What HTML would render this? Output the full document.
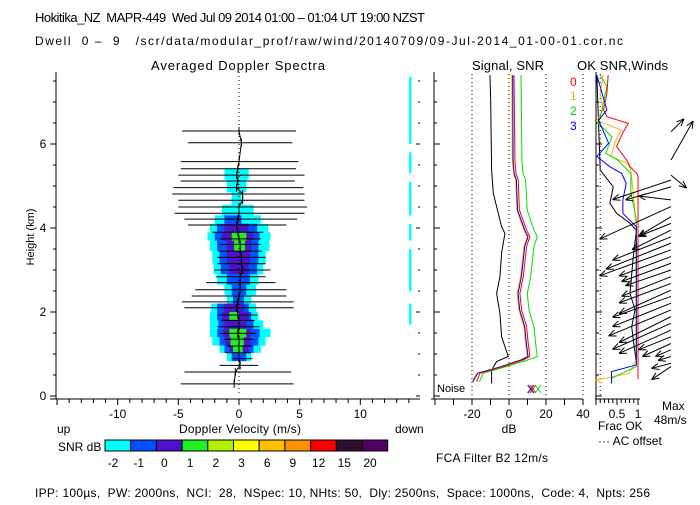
<!DOCTYPE html>
<html><head><meta charset="utf-8"><style>
body{margin:0;background:#fff}
svg text{font-family:"Liberation Sans",sans-serif;font-size:12px;fill:#000;white-space:pre}
</style></head><body>
<svg id="c" width="700" height="500" viewBox="0 0 700 500" xmlns="http://www.w3.org/2000/svg" xml:space="preserve">
<text x="35" y="22" style="font-size:13px" textLength="390" lengthAdjust="spacing">Hokitika_NZ  MAPR-449  Wed Jul 09 2014 01:00 – 01:04 UT 19:00 NZST</text>
<text x="35" y="45" style="font-size:12px" textLength="588" lengthAdjust="spacing">Dwell  0 –  9   /scr/data/modular_prof/raw/wind/20140709/09-Jul-2014_01-00-01.cor.nc</text>
<text x="151" y="70" style="font-size:13px" textLength="174" lengthAdjust="spacing">Averaged Doppler Spectra</text>
<text x="472" y="70" style="font-size:13px" textLength="72" lengthAdjust="spacing">Signal, SNR</text>
<text x="577" y="70" style="font-size:13px" textLength="91" lengthAdjust="spacing">OK SNR,Winds</text>
<text x="34" y="237" transform="rotate(-90 34 237)" text-anchor="middle" style="font-size:11px">Height (km)</text>
<text x="179" y="433" textLength="122" lengthAdjust="spacing">Doppler Velocity (m/s)</text>
<text x="57" y="433">up</text>
<text x="395" y="433">down</text>
<text x="509" y="433" text-anchor="middle">dB</text>
<text x="598" y="430">Frac OK</text>
<text x="598" y="445">··· AC offset</text>
<text x="662" y="410">Max</text>
<text x="654" y="424">48m/s</text>
<text x="58" y="451">SNR dB</text>
<text x="436" y="462" textLength="112" lengthAdjust="spacing">FCA Filter B2 12m/s</text>
<text x="35" y="497" textLength="615" lengthAdjust="spacing">IPP: 100µs,  PW: 2000ns,  NCI:  28,  NSpec: 10, NHts: 50,  Dly: 2500ns,  Space: 1000ns,  Code: 4,  Npts: 256</text>
<text x="437" y="392" style="font-size:11px">Noise</text>
<text x="570" y="86" style="fill:#f00">0</text>
<text x="570" y="100" style="fill:#ffb000">1</text>
<text x="570" y="115" style="fill:#00d000">2</text>
<text x="570" y="130" style="fill:#0000ff">3</text>
<g id="g"></g>
</svg>
<script>
// ---- data ----
const contourH=[5.3,5.0,4.7,4.4,4.2,4.0,3.8,3.6,3.3,3.0,2.8,2.5,2.3,2.1,1.9,1.7,1.5,1.3,1.1,0.95];
const cyanL=[-1.2,-1.0,-0.6,-1.4,-2.0,-2.4,-2.6,-2.4,-2.2,-2.1,-1.8,-1.2,-1.0,-2.3,-2.4,-2.4,-2.4,-2.2,-1.6,-1.0];
const cyanR=[0.8,0.6,0.2,1.2,1.8,2.4,2.6,2.5,2.2,2.0,1.6,1.4,1.0,1.4,1.6,2.0,2.6,2.2,1.8,1.0];
const blueL=[0,0,0,0,-1.2,-1.8,-2.0,-1.8,-1.6,-1.5,-1.0,-0.6,-0.5,-1.8,-1.8,-1.7,-1.8,-1.6,-1.2,-0.6];
const blueR=[0,0,0,0,0.2,1.5,1.7,1.6,1.6,1.5,0.9,0.6,0.4,0.8,1.0,1.2,1.7,1.6,1.2,0.6];
const purpL=[0,0,0,0,0,-1.2,-1.4,-1.0,-1.0,-0.8,0,0,0,-1.2,-1.4,-1.2,-1.3,-1.1,-0.8,0];
const purpR=[0,0,0,0,0,0.8,1.2,1.0,0.9,0.8,0,0,0,0.4,0.8,0.6,1.0,1.0,0.8,0];
const greenL=[0,0,0,0,0,0,-0.6,-0.4,0,0,0,0,0,0,-0.8,0,-0.8,-0.7,-0.5,0];
const greenR=[0,0,0,0,0,0,0.6,0.5,0,0,0,0,0,0,0.0,0,0.6,0.4,0.3,0];
const barH=[6.31,6.03,5.58,5.41,5.26,5.12,4.96,4.81,4.66,4.50,4.35,4.21,4.07,3.90,3.74,3.61,3.45,3.30,3.15,3.00,2.84,2.70,2.53,2.38,2.24,2.10,1.93,1.80,1.65,1.49,1.35,1.19,1.03,0.89,0.73,0.57,0.29];
const barL=[-4.7,-4.2,-4.8,-4.8,-5.0,-4.8,-5.4,-5.5,-5.0,-5.0,-5.3,-4.5,-4.2,-2.2,-1.6,-1.6,-1.7,-1.8,-1.8,-2.0,-1.9,-2.7,-3.6,-3.9,-4.7,-4.5,-1.8,-1.5,-1.8,-1.6,-1.2,-1.0,-1.1,-0.6,-1.6,-4.5,-4.8];
const barR=[4.7,4.4,4.9,4.7,5.4,4.6,5.3,5.4,5.4,5.6,5.4,4.8,3.9,2.0,1.8,1.8,1.9,2.2,2.2,2.6,2.2,3.0,3.9,3.9,4.5,4.5,1.5,1.3,1.7,1.4,1.2,1.1,1.0,1.1,1.6,4.3,4.5];
const barMean=[0,0.2,0,-0.1,-0.2,-0.1,-0.2,0.3,0.3,0,0,-0.1,-0.2,-0.1,0,0.1,0.1,0.2,0.2,0.3,0.1,0.1,0.1,0,-0.1,-0.2,-0.1,0,0,-0.1,0,0,0,0,0.1,-0.3,-0.4];
const sigH=[7.64,7.05,5.38,4.83,4.03,3.87,3.40,2.84,2.44,1.97,1.41,0.94,0.82,0.62,0.30];
const sigDb=[-10.3,-9.9,-9.4,-8.5,-4.0,-2.2,-4.0,-4.9,-6.7,-4.9,-4.0,-0.4,-6.7,-9.4,-9.4];
const snrH=[7.64,5.62,5.30,5.14,4.43,3.95,3.79,3.56,2.84,2.44,2.05,1.65,1.25,0.94,0.86,0.70,0.54,0.34];
const snr0=[2.7,3.2,3.8,5.0,5.6,9.5,11.3,9.5,7.7,5.9,6.8,9.5,10.4,11.3,7.7,-3.1,-15.7,-17.5];
const snr1=[1.5,1.8,2.4,3.6,4.2,8.0,9.8,8.0,6.2,4.4,5.3,8.0,8.9,9.8,6.2,-4.6,-17.5,-20.0];
const snr2=[6.5,7.0,7.6,9.0,9.8,13.5,15.3,13.5,11.7,9.9,10.8,13.5,14.4,15.3,10.2,-1.5,-14.0,-16.0];
const snr3=[2.0,2.2,2.8,4.0,4.6,8.5,10.3,8.5,6.7,4.9,5.8,8.5,9.4,10.3,6.7,-4.0,-17.0,-19.5];
const fracH0=[7.64,7.21,6.81,6.65,6.49,6.29,5.94,5.62,5.46,5.30,5.22,0.40];
const frac0=[0.29,0.26,0.18,0.26,0.77,0.65,0.49,0.73,0.81,0.97,1.0,1.0];
const fracH1=[7.64,7.21,6.81,6.57,6.33,6.02,5.70,5.54,5.38,4.67,4.19,4.03,0.86,0.54,0.38,0.30];
const frac1=[0.17,0.10,0.17,0.02,0.60,0.44,0.36,0.75,0.83,0.90,0.94,0.96,0.96,0.79,0.0,0.15];
const fracH2=[7.64,7.37,6.81,6.49,6.17,5.78,5.62,5.30,4.83,4.51,4.19,0.70,0.42,0.30];
const frac2=[0.10,0.26,0.14,0.06,0.38,0.23,0.51,0.83,0.83,0.90,0.96,0.96,0.37,0.37];
const fracH3=[7.64,6.81,6.57,6.02,5.70,5.46,5.30,5.06,4.67,4.35,4.03,0.74,0.58,0.30];
const frac3=[0.02,0.26,0.06,0.30,0.02,0.33,0.61,0.72,0.64,0.64,0.96,0.96,0.37,0.37];
const acH=[7.64,5.38,4.98,4.59,4.35,4.11,3.95,3.24,2.44,2.05,1.65,1.25,0.86];
const acF=[0.02,0.10,0.41,0.33,0.49,0.81,0.96,0.88,0.81,0.93,0.85,0.90,0.95];
const windH=[6.29,5.62,5.26,5.14,4.98,4.67,4.51,4.27,4.11,3.95,3.79,3.64,3.48,3.32,3.16,3.00,2.84,2.68,2.52,2.37,2.21,2.05,1.89,1.73,1.57,1.41,1.25,1.10,0.94,0.78,0.70];
const windU=[10,17,12,-45,-35,-25,-55,-25,-25,-30,-45,-50,-55,-40,-38,-35,-38,-40,-40,-45,-45,-48,-40,-45,-40,-25,-22,-12,-10,-15,-15];
const windV=[10,30,-10,-15,-10,3,-25,-15,-10,-15,-18,-20,-20,-15,-14,-12,-15,-15,-18,-16,-18,-20,-20,-20,-18,-10,-10,-5,-3,-4,-10];
const velTicks=[-10,-5,0,5,10];
const dbTicks=[-20,0,20,40];
const cbLabels=["-2","-1","0","1","2","3","6","9","12","15","20"];
const cbColors=["#00ffff","#0050ff","#5010d0","#20f020","#b0f000","#ffff00","#ffc000","#ff9000","#ff0000","#301030","#500060"];
// ---- scales ----
const Y=h=>396-42*h, XV=v=>239+12.13*v, XD=d=>509+1.85*d, XF=f=>596+42*f, WS=1.3;
const NS="http://www.w3.org/2000/svg", G=document.getElementById('g');
function mk(t,a,name){const e=document.createElementNS(NS,t);for(const k in a)e.setAttribute(k,a[k]);


G.appendChild(e);return e;}
function line(x1,y1,x2,y2,name,extra){return mk('line',Object.assign({x1,y1,x2,y2,stroke:'#000','stroke-width':1},extra||{}),name);}
function poly(xs,ys,col,name,w){mk('polyline',{points:xs.map((x,i)=>x+','+ys[i]).join(' '),fill:'none',stroke:col,'stroke-width':w||1},name);}
function txt(x,y,s,name,anchor){const e=mk('text',{x,y,'text-anchor':anchor||'middle'},name);e.textContent=s;return e;}
const lev=[[cyanL,cyanR,'#00ffff'],[blueL,blueR,'#0055ff'],[purpL,purpR,'#4b14c8'],[greenL,greenR,'#22ee22']];
lev.forEach((L,li)=>{contourH.forEach((h,i)=>{if(L[0][i]===0&&L[1][i]===0)return;
 const top=i===0?h+0.12:(h+contourH[i-1])/2, bot=i===contourH.length-1?h-0.12:(h+contourH[i+1])/2;
 mk('rect',{x:XV(L[0][i]),y:Y(top),width:XV(L[1][i])-XV(L[0][i]),height:Y(bot)-Y(top),fill:L[2]},'contour-level-'+li);});});
line(XV(0),72,XV(0),396,'zero-velocity-line',{'stroke-dasharray':'1,3'});
barH.forEach((h,i)=>{line(XV(barL[i]),Y(h),XV(barR[i]),Y(h),'spectral-width-bar');
 line(XV(barMean[i]),Y(h)-4,XV(barMean[i]),Y(h)+4,'mean-velocity-tick');});
poly(barMean.map(XV),barH.map(Y),'#000','mean-velocity-line');
[[7.6,6.0],[5.8,5.3],[5.1,4.3],[4.1,3.7],[3.5,2.5],[2.2,1.7]].forEach(s=>mk('rect',{x:409,y:Y(s[0]),width:2.5,height:Y(s[1])-Y(s[0]),fill:'#00ffff'},'noise-strip'));
line(56,72,56,399,'y-axis');line(50,399,420,399,'x-axis');
for(let h=0;h<=7.5;h+=0.5){const maj=h%2===0;line(56,Y(h),maj?50:53,Y(h),'y-tick');line(420,Y(h),maj?416:418,Y(h),'y-tick-right');if(maj)txt(43,Y(h)+4,String(h),'y-tick-label');}
for(let v=-15;v<=14;v++){line(XV(v),399,XV(v),v%5===0?405:403,'x-tick');}
velTicks.forEach(v=>txt(XV(v),418,String(v),'x-tick-label'));
line(434,72,434,399,'signal-y-axis');line(431,399,583,399,'signal-x-axis');
for(let h=0;h<=7.5;h+=0.5)line(434,Y(h),h%2===0?440:437,Y(h),'signal-y-tick');
for(let d=-40;d<=40;d+=10){line(XD(d),399,XD(d),405,'signal-x-tick');}
dbTicks.forEach(d=>{txt(XD(d),418,String(d),'signal-x-tick-label');line(XD(d),74,XD(d),396,'signal-grid-line',{'stroke-dasharray':'1,3'});});
poly(sigDb.map(XD),sigH.map(Y),'#000','signal-line');
[[snr1,'#ffb000'],[snr3,'#0000ff'],[snr0,'#ff0000'],[snr2,'#00e000']].forEach((s,k)=>poly(s[0].map(XD),snrH.map(Y),s[1],'snr-line-'+k));
[['#ffb000',530],['#0000ff',531],['#ff0000',533],['#00e000',538]].forEach(m=>{const x=m[1],y=389;line(x-3,y-4,x+3,y+4,'noise-marker',{stroke:m[0]});line(x-3,y+4,x+3,y-4,'noise-marker',{stroke:m[0]});});
line(596,72,596,399,'winds-y-axis');line(595,399,640,399,'winds-x-axis');
for(let h=0;h<=7.5;h+=0.5)line(596,Y(h),h%2===0?602:599,Y(h),'winds-y-tick');
for(let f=0;f<=10;f++)line(XF(f/10),399,XF(f/10),f%5===0?405:403,'winds-x-tick');
txt(XF(0.5),418,'0.5','winds-x-tick-label');txt(XF(1),418,'1','winds-x-tick-label');
line(XF(0.1),74,XF(0.1),396,'ac-offset-line',{'stroke-dasharray':'1,3'});
poly(acF.map(XF),acH.map(Y),'#000','ac-line');
poly(frac1.map(XF),fracH1.map(Y),'#ffb000','frac-ok-1');
poly(frac2.map(XF),fracH2.map(Y),'#00e000','frac-ok-2');
poly(frac0.map(XF),fracH0.map(Y),'#ff0000','frac-ok-0');
poly(frac3.map(XF),fracH3.map(Y),'#0000ff','frac-ok-3');
windH.forEach((h,i)=>{const x0=671,y0=Y(h),x1=x0+windU[i]*WS,y1=y0-windV[i]*WS;
 line(x0,y0,x1,y1,'wind-arrow');const a=Math.atan2(y1-y0,x1-x0),L=8;
 [0.4,-0.4].forEach(d=>line(x1,y1,x1-L*Math.cos(a+d),y1-L*Math.sin(a+d),'wind-arrow-head'));});
cbColors.forEach((c,i)=>{mk('rect',{x:105+i*25.7,y:440,width:25.7,height:11,fill:c,stroke:'#000','stroke-width':1},'colorbar-cell');
 txt(105+i*25.7+8,467,cbLabels[i],'colorbar-label');});
</script>
</body></html>
